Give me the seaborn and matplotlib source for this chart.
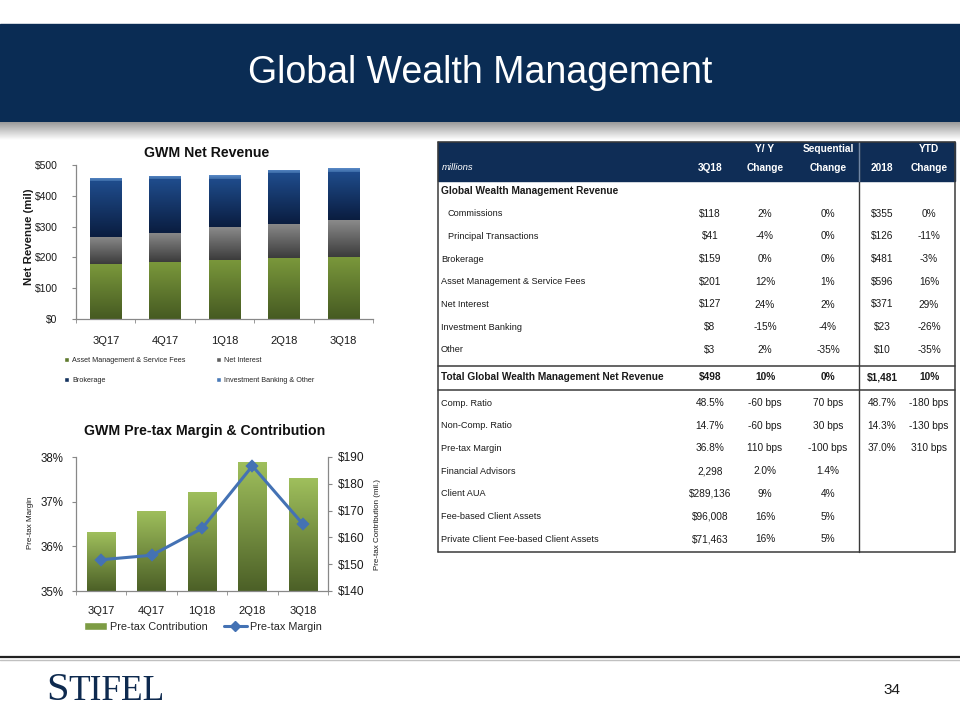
import numpy as np
import pandas as pd
import matplotlib
matplotlib.use("Agg")
import matplotlib.pyplot as plt
import matplotlib.colors as mcolors
from matplotlib.patches import Rectangle, Patch
from matplotlib.lines import Line2D
from matplotlib.ticker import FuncFormatter, FixedLocator
import seaborn as sns

# ---------------- data ----------------
quarters = ["3Q17", "4Q17", "1Q18", "2Q18", "3Q18"]
am_fees = [178, 185, 193, 197, 200]
net_interest = [89, 95, 105, 113, 120]
brokerage = [180, 173, 157, 164, 158]
ib_other = [12, 12, 12, 11, 11]

pretax_contribution = [162, 170, 177, 188, 182]
pretax_margin = [35.7, 35.8, 36.4, 37.8, 36.5]

rev_ticks = [0, 100, 200, 300, 400, 500]
margin_ticks = [35, 36, 37, 38]
contrib_ticks = [140, 150, 160, 170, 180, 190]

tbl_head1 = ["", "Y/ Y", "Sequential", "", "YTD"]
tbl_head2 = ["3Q18", "Change", "Change", "2018", "Change"]
rev_section = "Global Wealth Management Revenue"
rev_labels = ["Commissions", "Principal Transactions", "Brokerage",
              "Asset Management & Service Fees", "Net Interest",
              "Investment Banking", "Other"]
rev_indent = [True, True, False, False, False, False, False]
rev_3q18 = ["$118", "$41", "$159", "$201", "$127", "$8", "$3"]
rev_yy = ["2%", "-4%", "0%", "12%", "24%", "-15%", "2%"]
rev_seq = ["0%", "0%", "0%", "1%", "2%", "-4%", "-35%"]
rev_2018 = ["$355", "$126", "$481", "$596", "$371", "$23", "$10"]
rev_ytd = ["0%", "-11%", "-3%", "16%", "29%", "-26%", "-35%"]
total_label = "Total Global Wealth Management Net Revenue"
total_vals = ["$498", "10%", "0%", "$1,481", "10%"]
kpi_labels = ["Comp. Ratio", "Non-Comp. Ratio", "Pre-tax Margin",
              "Financial Advisors", "Client AUA", "Fee-based Client Assets",
              "Private Client Fee-based Client Assets"]
kpi_3q18 = ["48.5%", "14.7%", "36.8%", "2,298", "$289,136", "$96,008", "$71,463"]
kpi_yy = ["-60 bps", "-60 bps", "110 bps", "2.0%", "9%", "16%", "16%"]
kpi_seq = ["70 bps", "30 bps", "-100 bps", "1.4%", "4%", "5%", "5%"]
kpi_2018 = ["48.7%", "14.3%", "37.0%", "", "", "", ""]
kpi_ytd = ["-180 bps", "-130 bps", "310 bps", "", "", "", ""]

# ---------------- style ----------------
sns.set_style("white")
plt.rcParams["font.family"] = ["Liberation Sans", "DejaVu Sans"]

W, H = 960, 720
NAVY = "#0A2C54"
TXT = "#1a1a1a"
AXC = "#888888"

fig = plt.figure(figsize=(9.6, 7.2), dpi=100)
fig.patch.set_facecolor("white")


def box(l, t, r, b):
    return [l / W, 1 - b / H, (r - l) / W, (b - t) / H]


def fx(x):
    return x / W


def fy(y):
    return 1 - y / H


bg = fig.add_axes([0, 0, 1, 1])
bg.axis("off")


def vgrad(top_hex, bot_hex, n=64):
    ct = np.array(mcolors.to_rgb(top_hex))
    cb = np.array(mcolors.to_rgb(bot_hex))
    t = np.linspace(0, 1, n)[:, None]
    return (ct * (1 - t) + cb * t)[:, None, :]


def gradient_bars(ax, patches, top_hex, bot_hex, floor=None):
    img = vgrad(top_hex, bot_hex)
    for p in patches:
        p.set_linewidth(0)
        x0, y0, w, h = p.get_x(), p.get_y(), p.get_width(), p.get_height()
        lo = y0 if floor is None else max(y0, floor)
        im = ax.imshow(img, extent=(x0, x0 + w, lo, y0 + h), origin="upper",
                       aspect="auto", interpolation="bilinear",
                       zorder=p.get_zorder() + 0.1)
        im.set_clip_path(p)


# ---------------- header ----------------
bg.add_patch(Rectangle((0, 24), W, 98, color=NAVY, zorder=1))
bg.imshow(vgrad("#9a9a9a", "#ffffff"), extent=(0, W, 140, 122), origin="upper",
          aspect="auto", zorder=1)
bg.text(480, 73, "Global Wealth Management", color="white", fontsize=27,
        ha="center", va="center", zorder=2)

# ---------------- footer ----------------
bg.plot([0, W], [657, 657], color="#222222", lw=1.6, zorder=1)
bg.plot([0, W], [660, 660], color="#c0c0c0", lw=1.0, zorder=1)
bg.text(46, 700, "S", family="Liberation Serif", fontsize=29, color="#0E2A4F",
        va="baseline", ha="left")
bg.text(68, 700, "TIFEL", family="Liberation Serif", fontsize=25.5, color="#0E2A4F",
        va="baseline", ha="left")
bg.text(892, 690, "34", fontsize=11, ha="center", va="center", color=TXT)

# ---------------- table ----------------
T_L, T_R, T_DIV, T_TOP, T_BOT = 438, 955, 859, 142, 552
col_x = [710, 765, 828, 882, 929]
bg.add_patch(Rectangle((T_L, T_TOP), T_R - T_L, 39, color="#0F2D56", zorder=1))
lc = "#3a3a3a"
for xx in (T_L, T_R):
    bg.plot([xx, xx], [T_TOP, T_BOT], color=lc, lw=1.1, zorder=2)
bg.plot([T_DIV, T_DIV], [T_TOP, T_BOT], color=lc, lw=1.0, zorder=2)
bg.plot([T_DIV, T_DIV], [T_TOP, 181], color="#6f86a6", lw=1.0, zorder=2)
for yy in (T_TOP, 366, 390, T_BOT):
    bg.plot([T_L, T_R], [yy, yy], color=lc, lw=1.1, zorder=2)

for x, h1, h2 in zip(col_x, tbl_head1, tbl_head2):
    bg.text(x, 149, h1, color="white", fontsize=7.3, fontweight="bold",
            ha="center", va="center", zorder=3)
    bg.text(x, 168, h2, color="white", fontsize=7.3, fontweight="bold",
            ha="center", va="center", zorder=3)
bg.text(442, 168, "millions", color="white", fontsize=6.8, style="italic",
        ha="left", va="center", zorder=3)

bg.text(441, 191, rev_section, fontsize=7.3, fontweight="bold", ha="left",
        va="center", color=TXT)
step = 22.7
for i, lab in enumerate(rev_labels):
    y = 191 + (i + 1) * step
    bg.text(448 if rev_indent[i] else 441, y, lab, fontsize=6.6, ha="left",
            va="center", color=TXT)
    for x, v in zip(col_x, [rev_3q18[i], rev_yy[i], rev_seq[i], rev_2018[i], rev_ytd[i]]):
        bg.text(x, y, v, fontsize=7.3, ha="center", va="center", color=TXT)

bg.text(441, 377, total_label, fontsize=7.3, fontweight="bold", ha="left",
        va="center", color=TXT)
for x, v in zip(col_x, total_vals):
    bg.text(x, 377, v, fontsize=7.3, fontweight="bold", ha="center",
            va="center", color=TXT)

for i, lab in enumerate(kpi_labels):
    y = 403 + i * step
    bg.text(441, y, lab, fontsize=6.6, ha="left", va="center", color=TXT)
    for x, v in zip(col_x, [kpi_3q18[i], kpi_yy[i], kpi_seq[i], kpi_2018[i], kpi_ytd[i]]):
        bg.text(x, y, v, fontsize=7.3, ha="center", va="center", color=TXT)

bg.set_xlim(0, W)
bg.set_ylim(H, 0)

# ---------------- top chart: stacked revenue ----------------
df = pd.DataFrame({"quarter": quarters, "am": am_fees, "ni": net_interest,
                   "brok": brokerage, "ib": ib_other})
ax1 = fig.add_axes(box(76, 165, 373, 319))
series = [
    ("am", "Asset Management & Service Fees", "#7a983b", "#465a22", "#5f7a2e"),
    ("ni", "Net Interest", "#8a8a8a", "#3c3c3c", "#606060"),
    ("brok", "Brokerage", "#1f4c8c", "#0a1d40", "#14335f"),
    ("ib", "Investment Banking & Other", "#5b8bc8", "#3a6aa6", "#4a7ab8"),
]
bottoms = np.zeros(len(quarters))
handles = {}
for col, label, ctop, cbot, cmid in series:
    n0 = len(ax1.patches)
    sns.barplot(data=df, x="quarter", y=col, bottom=bottoms.copy(), width=0.53,
                color=cmid, saturation=1, ax=ax1, errorbar=None)
    gradient_bars(ax1, ax1.patches[n0:], ctop, cbot)
    bottoms += df[col].to_numpy()
    handles[col] = Patch(facecolor=cmid, label=label)

ax1.set_xlim(-0.5, len(quarters) - 0.5)
ax1.set_ylim(0, 500)
ax1.yaxis.set_major_locator(FixedLocator(rev_ticks))
ax1.yaxis.set_major_formatter(FuncFormatter(lambda v, p: f"${v:,.0f}"))
ax1.set_xlabel("")
ax1.set_ylabel("Net Revenue (mil)", fontsize=8.2, fontweight="bold", color=TXT)
ax1.yaxis.set_label_coords(-0.143, 0.532)
for s in ("top", "right"):
    ax1.spines[s].set_visible(False)
for s in ("left", "bottom"):
    ax1.spines[s].set_color(AXC)
    ax1.spines[s].set_linewidth(0.9)
ax1.set_xticks(np.arange(-0.5, len(quarters)), minor=True)
ax1.tick_params(axis="x", which="major", length=0, pad=12, labelsize=8, labelcolor=TXT)
ax1.tick_params(axis="x", which="minor", length=3, color=AXC, direction="out", bottom=True)
ax1.tick_params(axis="y", length=3, color=AXC, direction="out", left=True, pad=10.2,
                labelsize=7.5, labelcolor=TXT)
ax1.text((207 - 76) / 297, (319 - 153) / 154, "GWM Net Revenue", transform=ax1.transAxes,
         ha="center", va="center", fontsize=10.2, fontweight="bold", color="#111111")
leg_h = [handles["am"], handles["brok"], handles["ni"], handles["ib"]]
fig.legend(handles=leg_h, labels=[h.get_label() for h in leg_h], loc="upper left",
           bbox_to_anchor=(fx(64), fy(357)), ncol=2, frameon=False, fontsize=5.2,
           handlelength=0.7, handleheight=0.7, handletextpad=0.4, columnspacing=4.3,
           labelspacing=1.75, borderpad=0, borderaxespad=0)

# ---------------- bottom chart: margin & contribution ----------------
df2 = pd.DataFrame({"quarter": quarters, "contrib": pretax_contribution,
                    "margin": pretax_margin})
ax2 = fig.add_axes(box(76, 457, 328, 591))
ax3 = ax2.twinx()
sns.barplot(data=df2, x="quarter", y="contrib", width=0.56, color="#7d9c44",
            saturation=1, ax=ax2, errorbar=None)
ax2.set_ylim(contrib_ticks[0], contrib_ticks[-1])
gradient_bars(ax2, list(ax2.patches), "#9fbf5c", "#4c6027", floor=contrib_ticks[0])
sns.pointplot(data=df2, x="quarter", y="margin", ax=ax3, color="#4472b4",
              markers="D", markersize=5, linewidth=2.2, errorbar=None)

ax2.set_xlim(-0.5, len(quarters) - 0.5)
ax2.set_ylim(contrib_ticks[0], contrib_ticks[-1])
ax2.yaxis.tick_right()
ax2.yaxis.set_label_position("right")
ax2.yaxis.set_major_locator(FixedLocator(contrib_ticks))
ax2.yaxis.set_major_formatter(FuncFormatter(lambda v, p: f"${v:,.0f}"))
ax2.set_xlabel("")
ax2.set_ylabel("Pre-tax Contribution (mil.)", fontsize=5.8, color=TXT)
ax2.yaxis.set_label_coords(1.183, 0.5)
ax2.spines["top"].set_visible(False)
for s in ("left", "right", "bottom"):
    ax2.spines[s].set_color(AXC)
    ax2.spines[s].set_linewidth(0.9)
ax2.set_xticks(np.arange(-0.5, len(quarters)), minor=True)
ax2.tick_params(axis="x", which="major", length=0, pad=11, labelsize=8, labelcolor=TXT)
ax2.tick_params(axis="x", which="minor", length=3, color=AXC, direction="out", bottom=True)
ax2.tick_params(axis="y", length=3, color=AXC, direction="out", right=True, left=False,
                labelright=True, labelleft=False, pad=4.2, labelsize=8.6, labelcolor=TXT)

ax3.set_ylim(margin_ticks[0], margin_ticks[-1])
ax3.set_xlim(-0.5, len(quarters) - 0.5)
ax3.yaxis.tick_left()
ax3.yaxis.set_label_position("left")
ax3.yaxis.set_major_locator(FixedLocator(margin_ticks))
ax3.yaxis.set_major_formatter(FuncFormatter(lambda v, p: f"{v:.0f}%"))
ax3.set_ylabel("Pre-tax Margin", fontsize=5.8, color=TXT)
ax3.yaxis.set_label_coords(-0.167, 0.507)
ax3.set_xlabel("")
for s in ax3.spines.values():
    s.set_visible(False)
ax3.tick_params(axis="y", length=3, color=AXC, direction="out", left=True, right=False,
                labelleft=True, labelright=False, pad=6.3, labelsize=8.3, labelcolor=TXT)
ax3.tick_params(axis="x", which="both", length=0)

fig.text(fx(205), fy(431), "GWM Pre-tax Margin & Contribution", ha="center", va="center",
         fontsize=10.2, fontweight="bold", color="#111111")
leg2_h = [Patch(facecolor="#7d9c44", label="Pre-tax Contribution"),
          Line2D([], [], color="#4472b4", marker="D", markersize=5, lw=2.2,
                 label="Pre-tax Margin")]
fig.legend(handles=leg2_h, labels=[h.get_label() for h in leg2_h], loc="upper left",
           bbox_to_anchor=(fx(84), fy(622)), ncol=2, frameon=False, fontsize=7.8,
           handlelength=2.1, handleheight=0.7, handletextpad=0.3, columnspacing=1.5,
           borderpad=0, borderaxespad=0)

fig.savefig("out.png", dpi=100, facecolor="white")
